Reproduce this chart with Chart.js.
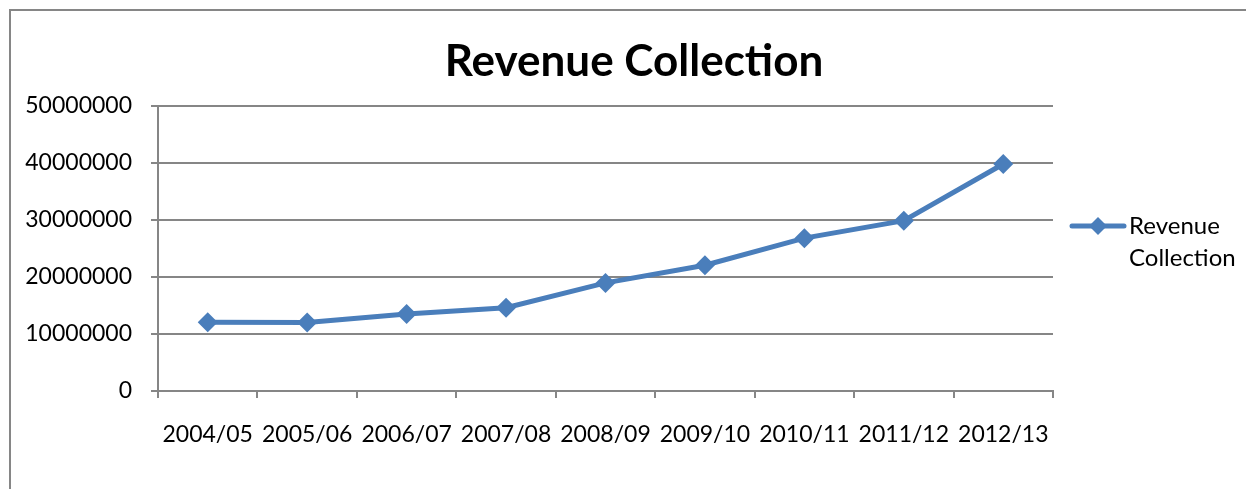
<!DOCTYPE html>
<html>
<head>
<meta charset="utf-8">
<script src="https://cdn.jsdelivr.net/npm/chart.js@4/dist/chart.umd.min.js"></script>
<style>
  html, body { margin: 0; padding: 0; background: #fff; }
  #wrap { width: 1246px; height: 489px; position: relative; }
</style>
</head>
<body>
<div id="wrap"><canvas id="revenue-chart"></canvas></div>
<script>
const years = ["2004/05", "2005/06", "2006/07", "2007/08", "2008/09", "2009/10", "2010/11", "2011/12", "2012/13"]
const revenue = [12050000, 12000000, 13500000, 14600000, 18950000, 22050000, 26800000, 29850000, 39800000]
const yTicks = [0, 10000000, 20000000, 30000000, 40000000, 50000000]

const lineBlue = '#4a7ebb'
const axisGrey = '#868686'
const fontFamily = "Lato, 'Open Sans', sans-serif"

// outer frame + legend drawn by hand (excel-ish look)
const frameAndLegend = {
    id: 'frameAndLegend',
    beforeDraw(chart) {
        const ctx = chart.ctx
        ctx.save()
        ctx.strokeStyle = axisGrey
        ctx.lineWidth = 2
        ctx.strokeRect(10, 10, chart.width + 20, chart.height + 20)
        ctx.restore()
    },
    afterDraw(chart) {
        const ctx = chart.ctx
        const ds = chart.data.datasets[0]
        const y = 226
        ctx.save()
        ctx.strokeStyle = ds.borderColor
        ctx.lineWidth = 5
        ctx.lineCap = 'round'
        ctx.beginPath()
        ctx.moveTo(1072, y)
        ctx.lineTo(1124, y)
        ctx.stroke()
        ctx.fillStyle = ds.borderColor
        ctx.beginPath()
        ctx.moveTo(1098, y - 9)
        ctx.lineTo(1107, y)
        ctx.lineTo(1098, y + 9)
        ctx.lineTo(1089, y)
        ctx.closePath()
        ctx.fill()
        ctx.fillStyle = '#000'
        ctx.font = "24px " + fontFamily
        ctx.textBaseline = 'middle'
        const words = ds.label.split(' ')
        ctx.fillText(words[0], 1129, y)
        ctx.fillText(words[1], 1129, y + 32)
        ctx.restore()
    }
}

new Chart(document.querySelector('#revenue-chart'), {
    type: 'line',
    data: {
        labels: years,
        datasets: [{
            label: 'Revenue Collection',
            data: revenue,
            borderColor: lineBlue,
            backgroundColor: lineBlue,
            borderWidth: 5,
            tension: 0,
            pointStyle: 'rectRot',
            pointRadius: 10,
            pointHoverRadius: 10,
            pointBorderWidth: 0
        }]
    },
    options: {
        responsive: true,
        maintainAspectRatio: false,
        animation: false,
        layout: { padding: { left: 22, right: 0, top: 0, bottom: 0 } },
        plugins: {
            legend: { display: false },
            tooltip: { enabled: false },
            title: {
                display: true,
                text: 'Revenue Collection',
                color: '#000',
                font: { family: fontFamily, size: 44, weight: 'bold' },
                padding: { top: 35, bottom: 18 }
            }
        },
        scales: {
            x: {
                offset: true,
                grid: { display: true, offset: true, drawOnChartArea: false, color: axisGrey, lineWidth: 2, tickLength: 7 },
                border: { color: axisGrey, width: 2 },
                ticks: { color: '#000', padding: 23, maxRotation: 0, autoSkip: false, font: { family: fontFamily, size: 23 } },
                afterFit: s => { s.height = 98 }
            },
            y: {
                min: 0,
                max: 50000000,
                afterBuildTicks: s => { s.ticks = yTicks.map(v => ({ value: v })) },
                grid: { color: axisGrey, lineWidth: 2, tickLength: 7 },
                border: { color: axisGrey, width: 2 },
                ticks: { color: '#000', padding: 19, callback: v => String(v), font: { family: fontFamily, size: 23 } },
                afterFit: s => { s.width = 136 }
            },
            // empty right-hand axis, only reserves room for the legend
            side: {
                position: 'right',
                grid: { display: false },
                border: { display: false },
                ticks: { display: false },
                afterFit: s => { s.width = 193 }
            }
        }
    },
    plugins: [frameAndLegend]
})
</script>
</body>
</html>
